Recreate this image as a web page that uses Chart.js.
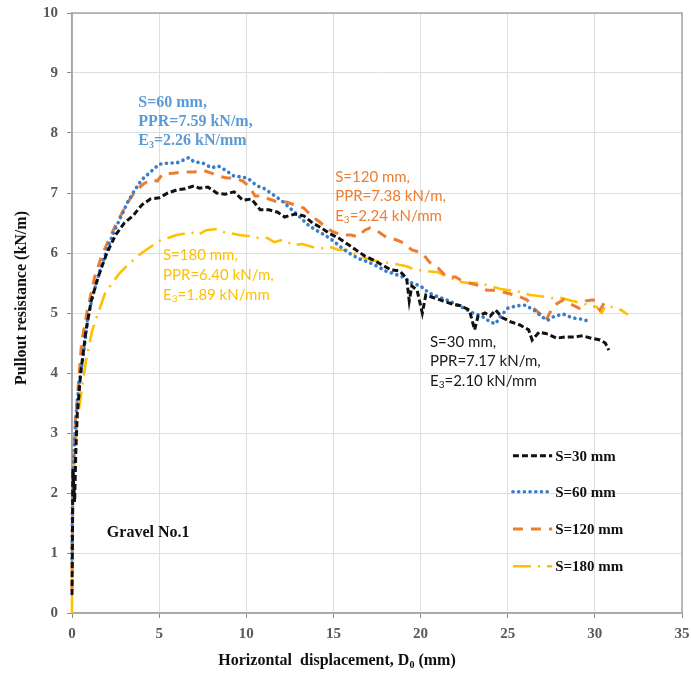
<!DOCTYPE html>
<html>
<head>
<meta charset="utf-8">
<title>Pullout resistance - Gravel No.1</title>
<script src="https://cdn.jsdelivr.net/npm/chart.js@4"></script>
<style>
  html, body { margin: 0; padding: 0; background: #fff; }
</style>
</head>
<body>
<canvas id="pulloutChart" width="691" height="675"></canvas>
<script>
// Horizontal displacement D0 (mm) and pullout resistance (kN/m) for each spacing S
const s30Disp = [0, 0.02, 0.05, 0.15, 0.22, 0.3, 0.5, 0.8, 1.1, 1.5, 2.0, 2.5, 3.0, 3.5, 4.0, 4.5, 5.0, 5.5, 6.0, 6.5, 7.0, 7.3, 7.8, 8.3, 8.8, 9.3, 9.8, 10.3, 10.8, 11.3, 11.8, 12.2, 12.8, 13.3, 13.8, 14.3, 14.8, 15.3, 15.8, 16.3, 16.8, 17.3, 17.8, 18.3, 18.8, 19.2, 19.35, 19.5, 19.8, 20.1, 20.3, 20.8, 21.3, 21.8, 22.3, 22.8, 23.1, 23.3, 23.7, 24.0, 24.3, 24.7, 25.2, 25.7, 26.2, 26.4, 26.8, 27.3, 27.8, 28.3, 28.8, 29.3, 29.8, 30.3, 30.6, 30.8];
const s30Load = [0.3, 1.0, 2.4, 1.85, 2.7, 3.3, 4.0, 4.7, 5.2, 5.6, 6.0, 6.3, 6.5, 6.62, 6.8, 6.9, 6.92, 7.0, 7.05, 7.07, 7.12, 7.08, 7.1, 7.0, 6.98, 7.02, 6.88, 6.9, 6.72, 6.72, 6.68, 6.6, 6.65, 6.62, 6.5, 6.42, 6.32, 6.25, 6.15, 6.05, 5.95, 5.88, 5.8, 5.72, 5.7, 5.58, 5.2, 5.45, 5.38, 5.0, 5.3, 5.25, 5.2, 5.15, 5.12, 5.05, 4.72, 4.95, 5.0, 4.95, 5.05, 4.92, 4.85, 4.8, 4.72, 4.55, 4.68, 4.65, 4.58, 4.6, 4.6, 4.62, 4.58, 4.55, 4.5, 4.38];

const s60Disp = [0, 0.02, 0.08, 0.2, 0.4, 0.65, 0.9, 1.2, 1.6, 2.0, 2.4, 2.8, 3.2, 3.6, 4.0, 4.5, 5.0, 5.5, 6.0, 6.4, 6.7, 7.0, 7.5, 8.0, 8.4, 8.8, 9.3, 9.8, 10.2, 10.6, 11.0, 11.5, 12.0, 12.5, 13.0, 13.5, 14.0, 14.5, 15.0, 15.5, 16.0, 16.5, 17.0, 17.5, 18.0, 18.5, 19.0, 19.5, 20.0, 20.5, 21.0, 21.5, 22.0, 22.5, 23.0, 23.5, 24.0, 24.3, 24.6, 25.0, 25.5, 26.0, 26.5, 27.0, 27.3, 27.7, 28.2, 28.7, 29.2, 29.8];
const s60Load = [0.9, 1.7, 2.4, 3.2, 3.8, 4.3, 4.9, 5.3, 5.7, 6.05, 6.35, 6.6, 6.85, 7.05, 7.22, 7.35, 7.48, 7.5, 7.5, 7.55, 7.59, 7.52, 7.5, 7.42, 7.45, 7.38, 7.28, 7.27, 7.22, 7.12, 7.08, 6.98, 6.88, 6.75, 6.62, 6.48, 6.38, 6.3, 6.2, 6.08, 5.98, 5.9, 5.85, 5.78, 5.7, 5.65, 5.6, 5.5, 5.45, 5.33, 5.27, 5.22, 5.15, 5.08, 5.0, 4.95, 4.85, 4.82, 4.95, 5.08, 5.12, 5.13, 5.05, 4.93, 4.88, 4.95, 4.98, 4.92, 4.9, 4.85];

const s120Disp = [0, 0.02, 0.05, 0.1, 0.2, 0.35, 0.55, 0.85, 1.3, 1.7, 2.0, 2.4, 2.75, 3.2, 3.7, 4.1, 4.5, 4.9, 5.2, 5.8, 6.4, 7.0, 7.5, 8.0, 8.4, 8.9, 9.3, 9.8, 10.2, 10.5, 10.9, 11.3, 11.8, 12.3, 12.8, 13.3, 13.8, 14.2, 14.6, 15.0, 15.5, 16.0, 16.4, 16.8, 17.1, 17.6, 18.1, 18.6, 19.0, 19.5, 20.1, 20.5, 21.0, 21.5, 22.0, 22.3, 22.8, 23.2, 23.8, 24.3, 25.0, 25.6, 26.1, 26.6, 27.0, 27.2, 27.5, 27.8, 28.2, 28.6, 29.1, 29.5, 29.9, 30.3, 30.7];
const s120Load = [0.4, 1.2, 2.0, 2.6, 3.2, 3.75, 4.5, 5.0, 5.6, 5.95, 6.15, 6.4, 6.6, 6.85, 7.05, 7.15, 7.22, 7.2, 7.32, 7.33, 7.35, 7.35, 7.38, 7.33, 7.28, 7.25, 7.25, 7.2, 7.1, 6.95, 6.95, 6.9, 6.85, 6.85, 6.8, 6.75, 6.6, 6.52, 6.42, 6.35, 6.3, 6.3, 6.27, 6.38, 6.42, 6.35, 6.25, 6.22, 6.17, 6.05, 6.0, 5.85, 5.75, 5.6, 5.6, 5.55, 5.5, 5.47, 5.38, 5.38, 5.33, 5.28, 5.22, 5.05, 4.95, 4.88, 5.05, 5.15, 5.22, 5.15, 5.08, 5.2, 5.22, 5.05, 5.25];

const s180Disp = [0, 0, 0.05, 0.15, 0.3, 0.5, 0.8, 1.15, 1.5, 1.9, 2.3, 2.75, 3.2, 3.7, 4.1, 4.5, 5.0, 5.5, 6.0, 6.4, 6.8, 7.2, 7.7, 8.3, 8.7, 9.1, 9.6, 10.2, 10.7, 11.2, 11.6, 12.1, 12.7, 13.2, 13.8, 14.3, 14.8, 15.3, 15.8, 16.5, 17.2, 17.8, 18.5, 19.2, 19.7, 20.3, 21.0, 21.6, 22.2, 22.8, 23.4, 24.0, 24.6, 25.1, 25.7, 26.3, 26.9, 27.5, 28.1, 28.7, 29.2, 29.7, 30.1, 30.4, 30.6, 31.0, 31.5, 31.9];
const s180Load = [0, 1.0, 2.0, 2.6, 3.2, 3.6, 4.2, 4.7, 5.0, 5.33, 5.5, 5.67, 5.8, 5.93, 6.02, 6.1, 6.2, 6.25, 6.3, 6.32, 6.35, 6.3, 6.38, 6.4, 6.35, 6.33, 6.3, 6.28, 6.25, 6.25, 6.18, 6.22, 6.13, 6.15, 6.1, 6.08, 6.1, 6.05, 6.05, 5.95, 5.88, 5.85, 5.82, 5.78, 5.72, 5.7, 5.68, 5.6, 5.52, 5.5, 5.5, 5.45, 5.4, 5.38, 5.35, 5.3, 5.28, 5.25, 5.25, 5.2, 5.17, 5.12, 5.1, 5.0, 5.12, 5.1, 5.05, 4.97];

const seriesNames = ['S=30 mm', 'S=60 mm', 'S=120 mm', 'S=180 mm'];
const xTicks = [0, 5, 10, 15, 20, 25, 30, 35];
const yTicks = [0, 1, 2, 3, 4, 5, 6, 7, 8, 9, 10];

const SERIF = '"Liberation Serif", "Times New Roman", serif';
const SANS = 'Lato, "Open Sans", sans-serif';

function toPoints(xs, ys) {
    return xs.map((x, i) => ({ x, y: ys[i] }));
}

const datasets = [
    { label: seriesNames[0], data: toPoints(s30Disp, s30Load), borderColor: '#111111', borderWidth: 3, borderDash: [6, 3] },
    { label: seriesNames[1], data: toPoints(s60Disp, s60Load), borderColor: '#3A7DCB', borderWidth: 3.6, borderDash: [0.1, 5.6], borderCapStyle: 'round' },
    { label: seriesNames[2], data: toPoints(s120Disp, s120Load), borderColor: '#ED7D31', borderWidth: 3, borderDash: [10, 8] },
    { label: seriesNames[3], data: toPoints(s180Disp, s180Load), borderColor: '#FFC000', borderWidth: 2.6, borderDash: [18, 7, 2, 7] }
].map(ds => Object.assign({ showLine: true, pointRadius: 0, tension: 0, fill: false, clip: 6 }, ds));

// Labels placed at data coordinates: [text, isSubscript] parts per line
const notes = [
    { x: 3.8, y: 8.5, step: 19, color: '#5B9BD5', font: 'bold 16px ' + SERIF,
      lines: [[['S=60 mm,']], [['PPR=7.59 kN/m,']], [['E'], ['3', true], ['=2.26 kN/mm']]] },
    { x: 15.1, y: 7.27, step: 19.5, color: '#ED7D31', font: '15px ' + SANS,
      lines: [[['S=120 mm,']], [['PPR=7.38 kN/m,']], [['E'], ['3', true], ['=2.24 kN/mm']]] },
    { x: 5.22, y: 5.97, step: 20, color: '#FFC000', font: '15px ' + SANS,
      lines: [[['S=180 mm,']], [['PPR=6.40 kN/m,']], [['E'], ['3', true], ['=1.89 kN/mm']]] },
    { x: 20.54, y: 4.52, step: 19.5, color: '#1a1a1a', font: '15px ' + SANS,
      lines: [[['S=30 mm,']], [['PPR=7.17 kN/m,']], [['E'], ['3', true], ['=2.10 kN/mm']]] },
    { x: 2.0, y: 1.33, step: 0, color: '#111111', font: 'bold 16px ' + SERIF,
      lines: [[['Gravel No.1']]] }
];

function drawParts(ctx, parts, x, y, font) {
    const size = parseFloat(font.match(/(\d+(\.\d+)?)px/)[1]);
    parts.forEach(([text, sub]) => {
        if (sub) {
            ctx.font = font.replace(/\d+(\.\d+)?px/, Math.round(size * 0.65) + 'px');
            ctx.fillText(text, x, y + size * 0.28);
        } else {
            ctx.font = font;
            ctx.fillText(text, x, y);
        }
        x += ctx.measureText(text).width;
    });
}

const decorPlugin = {
    id: 'decor',
    beforeDatasetsDraw(chart) {
        const { ctx, chartArea: a } = chart;
        ctx.save();
        ctx.strokeStyle = '#a6a6a6';
        ctx.lineWidth = 1.5;
        ctx.strokeRect(a.left, a.top, a.right - a.left, a.bottom - a.top);
        ctx.restore();
    },
    afterDatasetsDraw(chart) {
        const { ctx, chartArea: a } = chart;
        const xs = chart.scales.x, ys = chart.scales.y;
        ctx.save();
        ctx.textBaseline = 'middle';
        ctx.textAlign = 'left';

        notes.forEach(n => {
            ctx.fillStyle = n.color;
            const px = xs.getPixelForValue(n.x);
            const py = ys.getPixelForValue(n.y);
            n.lines.forEach((parts, i) => drawParts(ctx, parts, px, py + i * n.step, n.font));
        });

        // legend inside the plot
        const legendY = [2.62, 2.02, 1.4, 0.78];
        const lx0 = xs.getPixelForValue(25.3), lx1 = xs.getPixelForValue(27.55);
        chart.data.datasets.forEach((ds, i) => {
            const ly = ys.getPixelForValue(legendY[i]);
            ctx.save();
            ctx.strokeStyle = ds.borderColor;
            ctx.lineWidth = ds.borderWidth;
            ctx.lineCap = ds.borderCapStyle || 'butt';
            ctx.setLineDash(ds.borderDash);
            ctx.beginPath();
            ctx.moveTo(lx0, ly);
            ctx.lineTo(lx1, ly);
            ctx.stroke();
            ctx.restore();
            ctx.fillStyle = '#111111';
            ctx.font = 'bold 15px ' + SERIF;
            ctx.fillText(ds.label, lx1 + 3, ly + 1);
        });

        // axis titles
        ctx.fillStyle = '#111111';
        ctx.textAlign = 'left';
        const titleFont = 'bold 16px ' + SERIF;
        ctx.font = titleFont;
        const xParts = [['Horizontal  displacement, D'], ['0', true], [' (mm)']];
        let w = 0;
        xParts.forEach(([t, sub]) => {
            ctx.font = sub ? titleFont.replace('16px', '10px') : titleFont;
            w += ctx.measureText(t).width;
        });
        drawParts(ctx, xParts, 337 - w / 2, a.bottom + 48, titleFont);

        ctx.save();
        ctx.translate(22, 298);
        ctx.rotate(-Math.PI / 2);
        ctx.textAlign = 'center';
        ctx.font = titleFont;
        ctx.fillText('Pullout resistance (kN/m)', 0, 0);
        ctx.restore();
        ctx.restore();
    }
};

new Chart(document.getElementById('pulloutChart').getContext('2d'), {
    type: 'scatter',
    data: { datasets },
    options: {
        responsive: false,
        animation: false,
        devicePixelRatio: 1,
        layout: { padding: { left: 0, top: 13, right: 9, bottom: 0 } },
        plugins: { legend: { display: false }, tooltip: { enabled: false } },
        scales: {
            x: {
                type: 'linear', min: 0, max: 35,
                afterBuildTicks: s => { s.ticks = xTicks.map(v => ({ value: v })); },
                afterFit: s => { s.height = 62; s.paddingLeft = 0; s.paddingRight = 0; },
                grid: { color: '#dedede', lineWidth: 1, tickLength: 5, tickColor: '#8c8c8c' },
                border: { color: '#a6a6a6', width: 1.5 },
                ticks: { color: '#595959', padding: 7, font: { family: SERIF, size: 15, weight: 'bold' }, maxRotation: 0 }
            },
            y: {
                type: 'linear', min: 0, max: 10,
                afterBuildTicks: s => { s.ticks = yTicks.map(v => ({ value: v })); },
                afterFit: s => { s.width = 72; s.paddingTop = 0; s.paddingBottom = 0; },
                grid: { color: '#dedede', lineWidth: 1, tickLength: 5, tickColor: '#8c8c8c' },
                border: { color: '#a6a6a6', width: 1.5 },
                ticks: { color: '#595959', padding: 9, font: { family: SERIF, size: 15, weight: 'bold' } }
            }
        }
    },
    plugins: [decorPlugin]
});
</script>
</body>
</html>
